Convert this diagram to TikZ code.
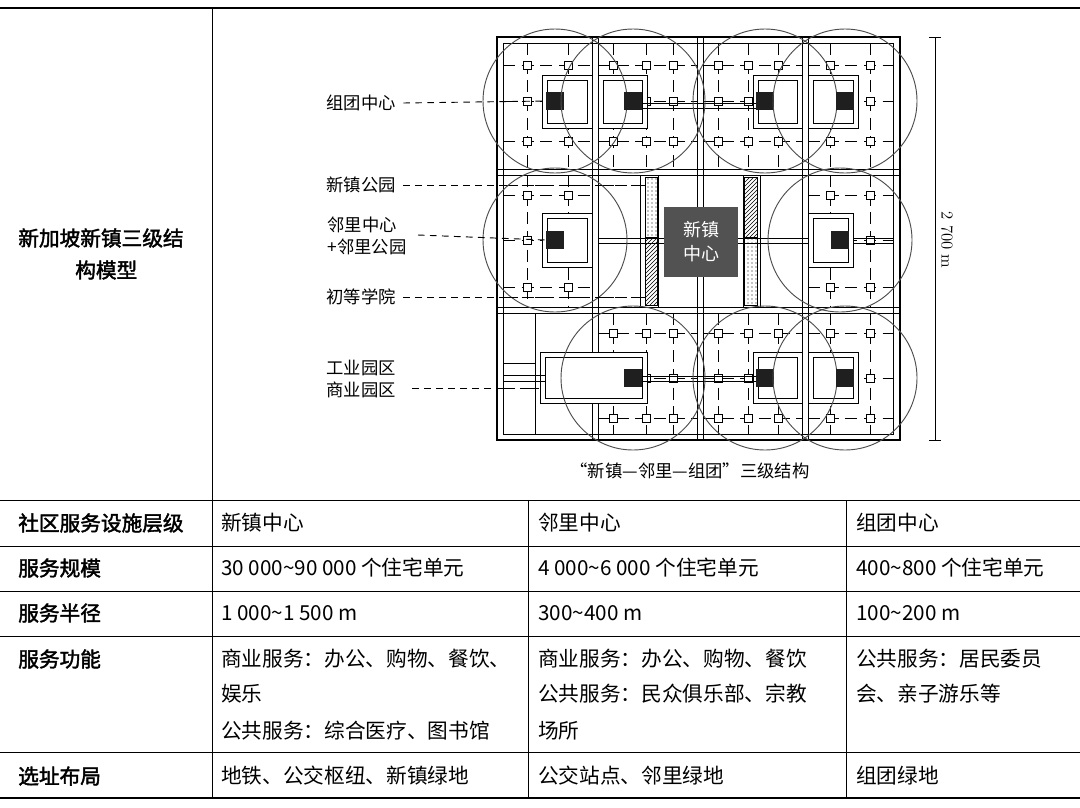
\documentclass[tikz,border=0pt]{standalone}
\usepackage{fontspec}
\usetikzlibrary{positioning, patterns}
\newfontfamily\cjk{Noto Sans CJK SC}
\newfontfamily\cjkb[FakeBold=2]{Noto Sans CJK SC}
\tikzset{
  sq/.style={draw,fill=white,minimum size=6pt,inner sep=0pt,line width=0.6pt},
  blk/.style={fill=black!88,minimum size=14pt,inner sep=0pt},
  gridln/.style={dash pattern=on 9pt off 5pt,line width=0.7pt},
  ring/.style={draw=black!70,line width=0.7pt},
  lead/.style={dash pattern=on 5pt off 4pt,line width=0.7pt},
  lab/.style={font=\cjk\fontsize{13}{17}\selectfont,inner sep=1pt},
  cellt/.style={anchor=west,font=\cjk\fontsize{15.5}{17}\selectfont,inner sep=0pt},
  headt/.style={anchor=west,font=\cjkb\fontsize{15.5}{17}\selectfont,inner sep=0pt}
}
\newcommand\cluster[6]{%
  \foreach \cx in {#5}{\draw[gridln] (\cx,#3) -- (\cx,#4);}
  \foreach \cy in {#6}{\draw[gridln] (#1,\cy) -- (#2,\cy);
    \foreach \cx in {#5}{\node[sq] at (\cx,\cy) {};}}}
\newcommand\frm[4]{\draw[fill=white,line width=0.7pt] (#1,#3) rectangle (#2,#4);
  \draw[line width=0.7pt] (#1+5,#3+5) rectangle (#2-5,#4-5);}
\begin{document}
\begin{tikzpicture}[x=0.75pt,y=-0.75pt]
\useasboundingbox (0,0) rectangle (1080,807);
% table rules
\draw[line width=1pt] (0,8) -- (1080,8);
\foreach \ry in {500,546,591,636,752}{\draw[line width=0.6pt] (0,\ry) -- (1080,\ry);}
\draw[line width=1pt] (0,798) -- (1080,798);
\draw[line width=0.6pt] (212,8) -- (212,798);
\draw[line width=0.6pt] (528,500) -- (528,798);
\draw[line width=0.6pt] (846,500) -- (846,798);
% table text
\node[headt] (h0) at (18,238) {新加坡新镇三级结};
\node[headt] (h0b) at (75,270) {构模型};
\node[headt] (h1) at (18,523) {社区服务设施层级};
\node[headt] (h2) at (18,568) {服务规模};
\node[headt] (h3) at (18,613) {服务半径};
\node[headt] (h4) at (18,659) {服务功能};
\node[headt] (h5) at (18,776) {选址布局};
\node[cellt] (a1) at (221,523) {新镇中心};
\node[cellt] (b1) at (538,523) {邻里中心};
\node[cellt] (c1) at (856,523) {组团中心};
\node[cellt] (a2) at (221,568) {30 000\textasciitilde 90 000 个住宅单元};
\node[cellt] (b2) at (538,568) {4 000\textasciitilde 6 000 个住宅单元};
\node[cellt] (c2) at (856,568) {400\textasciitilde 800 个住宅单元};
\node[cellt] (a3) at (221,613) {1 000\textasciitilde 1 500 m};
\node[cellt] (b3) at (538,613) {300\textasciitilde 400 m};
\node[cellt] (c3) at (856,613) {100\textasciitilde 200 m};
\node[cellt] (a4) at (221,659) {商业服务：办公、购物、餐饮、};
\node[cellt] (a4b) at (221,694) {娱乐};
\node[cellt] (a4c) at (221,731) {公共服务：综合医疗、图书馆};
\node[cellt] (b4) at (538,659) {商业服务：办公、购物、餐饮};
\node[cellt] (b4b) at (538,694) {公共服务：民众俱乐部、宗教};
\node[cellt] (b4c) at (538,731) {场所};
\node[cellt] (c4) at (856,659) {公共服务：居民委员};
\node[cellt] (c4b) at (856,694) {会、亲子游乐等};
\node[cellt] (a5) at (221,776) {地铁、公交枢纽、新镇绿地};
\node[cellt] (b5) at (538,776) {公交站点、邻里绿地};
\node[cellt] (c5) at (856,776) {组团绿地};
% plan: outer frame and roads
\draw[line width=0.8pt] (497,37) rectangle (900,440);
\draw[line width=0.7pt] (503,43) rectangle (893,434);
\foreach \vx in {592,598,697,703,802,808}{\draw[line width=0.7pt] (\vx,37) -- (\vx,440);}
\foreach \hy in {169,175,307,313}{\draw[line width=0.7pt] (497,\hy) -- (900,\hy);}
% clusters
\cluster{503}{592}{43}{169}{527,568}{65,101,141}
\cluster{598}{697}{43}{169}{613,646,673}{65,101,141}
\cluster{703}{802}{43}{169}{718,748,778}{65,101,141}
\cluster{808}{893}{43}{169}{830,870}{65,101,141}
\cluster{503}{592}{175}{307}{527,568}{195,240,287}
\cluster{808}{893}{175}{307}{830,870}{195,240,287}
\cluster{598}{697}{313}{434}{613,646,673}{333,378,418}
\cluster{703}{802}{313}{434}{718,748,778}{333,378,418}
\cluster{808}{893}{313}{434}{830,870}{333,378,418}
\draw[gridln] (503,185) -- (645,185);
\draw[gridln] (503,297) -- (645,297);
% industrial park
\draw[line width=0.6pt] (535,313) -- (535,434);
\draw[line width=0.6pt] (503,363) -- (535,363);
\draw[gridln] (503,388) -- (540,388);
\frm{540}{647}{352}{403}
\draw[line width=0.6pt] (503,375) rectangle (545,381);
% center zone
\draw[line width=0.7pt] (640,175) -- (640,307) (658,175) -- (658,307)
  (743,175) -- (743,307) (760,175) -- (760,307);
\draw[pattern=dots] (645,177) rectangle (657,237);
\draw[pattern=north east lines] (645,237) rectangle (657,305);
\draw[pattern=north east lines] (744,177) rectangle (757,237);
\draw[pattern=dots] (744,237) rectangle (757,305);
\draw[line width=0.7pt] (598,238) -- (893,238) (598,243) -- (893,243);
\draw[line width=0.7pt] (697,175) -- (697,307) (703,175) -- (703,307);
\node[fill=black!68,minimum width=55pt,minimum height=53pt,inner sep=0pt,
  align=center,text=white,font=\cjk\fontsize{13.5}{18}\selectfont] (nt) at (701,242) {新镇\\中心};
% center frames and black squares
\frm{542}{592}{75}{128}
\frm{598}{647}{75}{128}
\frm{753}{802}{75}{128}
\frm{808}{858}{75}{128}
\frm{542}{592}{213}{267}
\frm{808}{853}{213}{267}
\frm{753}{802}{352}{403}
\frm{808}{858}{352}{403}
\draw[line width=0.6pt] (640,103) -- (760,103) (640,108) -- (760,108);
\draw[line width=0.6pt] (640,376) -- (760,376) (640,381) -- (760,381);
\foreach \n/\bx/\by in {z1/555/101,z2/633/101,z3/765/101,z4/845/101,
  z5/555/240,z6/840/240,z7/633/378,z8/765/378,z9/845/378}{
  \node[blk] (\n) at (\bx,\by) {};
  \draw[ring] (\n) circle (72);}
% labels
\node[lab] (l1) at (361,103) {组团中心};
\node[lab] (l2) at (361,185) {新镇公园};
\node[lab,align=left] (l3) at (367,236) {邻里中心\\+邻里公园};
\node[lab] (l4) at (361,297) {初等学院};
\node[lab,align=center] (l5) at (361,379) {工业园区\\商业园区};
\draw[lead] (l1.east) ++(6,0) -- (z1.west);
\draw[lead] (l2.east) ++(6,0) -- (645,185);
\draw[lead] (418,235) -- (z5.west);
\draw[lead] (l4.east) ++(6,0) -- (645,297);
\draw[lead] (412,388) -- (540,388);
% dimension
\coordinate (d1) at (935,37);
\coordinate (d2) at (935,440);
\draw[line width=0.6pt] (d1) -- (d2);
\draw[line width=0.6pt] (929,37) -- (941,37) (929,440) -- (941,440);
\node[rotate=-90,font=\fontsize{12.5}{14}\selectfont] (dim) at (947,240) {2 700 m};
\node[lab] (cap) at (690,471) {“新镇—邻里—组团”三级结构};
\end{tikzpicture}
\end{document}
